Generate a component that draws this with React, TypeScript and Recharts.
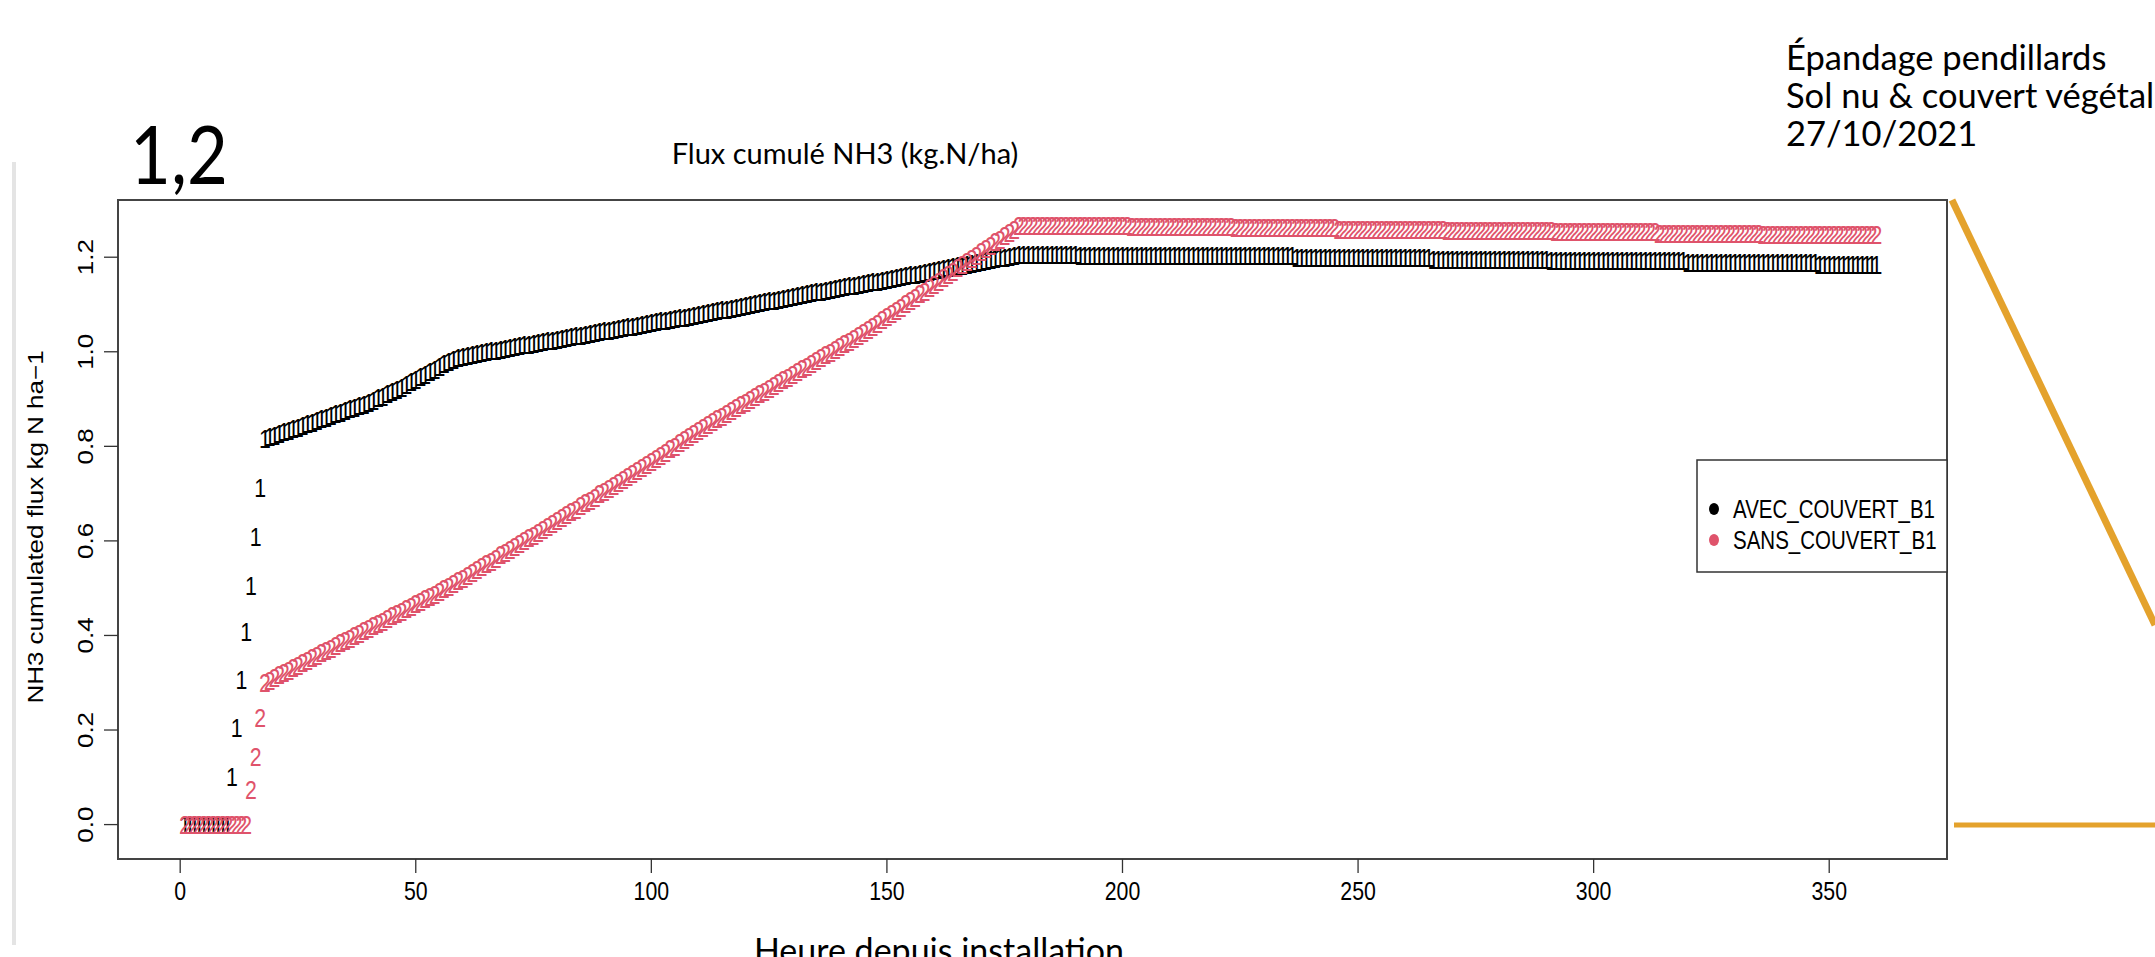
import React from 'react';
import { ScatterChart, Scatter, XAxis, YAxis, ReferenceArea, Legend } from 'recharts';

// ---- data (hours 1..360, one value per hour) ----
const hourTicks = [0, 50, 100, 150, 200, 250, 300, 350];
const fluxTicks = [0, 0.2, 0.4, 0.6, 0.8, 1.0, 1.2];
const seriesNames = ['AVEC_COUVERT_B1', 'SANS_COUVERT_B1'];
const seriesSymbols = ['1', '2'];
const seriesColors = ['#000000', '#DF536B'];

const avecCouvert = [
  0, 0, 0, 0, 0, 0, 0, 0, 0, 0,
  0.101, 0.205, 0.306, 0.407, 0.506, 0.608, 0.712,
  0.817, 0.820, 0.823, 0.827, 0.830, 0.833, 0.837, 0.840,
  0.844, 0.847, 0.851, 0.854, 0.858, 0.861, 0.865,
  0.868, 0.872, 0.875, 0.879, 0.882, 0.886, 0.889, 0.893,
  0.897, 0.902, 0.906, 0.911, 0.916, 0.920, 0.925,
  0.930, 0.936, 0.941, 0.947, 0.952,
  0.958, 0.963, 0.969, 0.975, 0.980,
  0.984, 0.987, 0.990,
  0.992, 0.994, 0.996, 0.998, 1.000,
  1.002, 1.003, 1.005, 1.007, 1.009, 1.010, 1.012,
  1.014, 1.016, 1.017, 1.019, 1.021, 1.023, 1.024, 1.026, 1.028, 1.030, 1.031, 1.033, 1.035,
  1.037, 1.038, 1.040, 1.042, 1.044, 1.045, 1.047, 1.049, 1.051, 1.052, 1.054, 1.056, 1.058, 1.059, 1.061,
  1.063, 1.065, 1.066, 1.068, 1.070, 1.071, 1.073, 1.075, 1.076, 1.078,
  1.080, 1.082, 1.084, 1.086, 1.088, 1.089, 1.091, 1.093, 1.095, 1.097,
  1.099, 1.101, 1.103, 1.105, 1.107, 1.108, 1.110, 1.112, 1.114, 1.116,
  1.118, 1.120, 1.122, 1.124, 1.126, 1.127, 1.129, 1.131, 1.133, 1.135,
  1.137, 1.139, 1.140, 1.142, 1.144, 1.146, 1.148, 1.149, 1.151, 1.153,
  1.155, 1.157, 1.158, 1.160, 1.162, 1.164, 1.166, 1.167, 1.169, 1.171, 1.173,
  1.175, 1.177, 1.179, 1.181, 1.182, 1.184, 1.186, 1.188, 1.190,
  1.192, 1.194, 1.196, 1.198, 1.200, 1.201, 1.203, 1.205,
  1.205, 1.205, 1.205, 1.205, 1.205, 1.205, 1.205, 1.205, 1.205, 1.205, 1.205, 1.205,
  1.204, 1.204, 1.204, 1.204, 1.204, 1.204, 1.204, 1.204, 1.204, 1.204, 1.204, 1.204, 1.204, 1.204, 1.204,
  1.203, 1.203, 1.203, 1.203, 1.203, 1.203, 1.203, 1.203, 1.203, 1.203,
  1.203, 1.203, 1.203, 1.203, 1.203, 1.203, 1.203, 1.203, 1.203, 1.203,
  1.203, 1.203, 1.203, 1.203, 1.203, 1.203, 1.203, 1.203, 1.203, 1.203, 1.203,
  1.199, 1.199, 1.199, 1.199, 1.199, 1.199, 1.199, 1.199, 1.199, 1.199,
  1.199, 1.199, 1.199, 1.199, 1.199, 1.199, 1.199, 1.199, 1.199, 1.199,
  1.199, 1.199, 1.199, 1.199, 1.199, 1.199, 1.199, 1.199, 1.199,
  1.195, 1.195, 1.195, 1.195, 1.195, 1.195, 1.195, 1.195, 1.195, 1.195,
  1.195, 1.195, 1.195, 1.195, 1.195, 1.195, 1.195, 1.195, 1.195, 1.195,
  1.195, 1.195, 1.195, 1.195, 1.195,
  1.192, 1.192, 1.192, 1.192, 1.192, 1.192, 1.192, 1.192, 1.192, 1.192,
  1.192, 1.192, 1.192, 1.192, 1.192, 1.192, 1.192, 1.192, 1.192, 1.192,
  1.192, 1.192, 1.192, 1.192, 1.192, 1.192, 1.192, 1.192, 1.192,
  1.188, 1.188, 1.188, 1.188, 1.188, 1.188, 1.188, 1.188, 1.188, 1.188,
  1.188, 1.188, 1.188, 1.188, 1.188, 1.188, 1.188, 1.188, 1.188, 1.188,
  1.188, 1.188, 1.188, 1.188, 1.188, 1.188, 1.188, 1.188,
  1.185, 1.185, 1.185, 1.185, 1.185, 1.185, 1.185, 1.185, 1.185, 1.185,
  1.185, 1.185, 1.185,
];

const sansCouvert = [
  0, 0, 0, 0, 0, 0, 0, 0, 0, 0, 0, 0, 0, 0,
  0.073, 0.143, 0.226,
  0.300, 0.305, 0.310, 0.316, 0.321, 0.326, 0.331, 0.337, 0.342, 0.347,
  0.352, 0.357, 0.363, 0.368, 0.373, 0.378, 0.384, 0.389, 0.394,
  0.399, 0.404, 0.410, 0.415, 0.420, 0.425, 0.430, 0.436, 0.441, 0.446,
  0.451, 0.456, 0.461, 0.467, 0.472, 0.477, 0.482, 0.487, 0.493, 0.498, 0.503,
  0.509, 0.515, 0.521, 0.527, 0.533, 0.539, 0.545, 0.551, 0.557, 0.563,
  0.570, 0.576, 0.582, 0.588, 0.594, 0.600, 0.606, 0.612, 0.618, 0.624, 0.630,
  0.636, 0.642, 0.649, 0.655, 0.661, 0.667, 0.674, 0.680, 0.686, 0.692,
  0.699, 0.705, 0.711, 0.717, 0.723, 0.730, 0.736, 0.742, 0.748, 0.755, 0.761, 0.767,
  0.774, 0.780, 0.787, 0.794, 0.800, 0.807, 0.814, 0.821, 0.827, 0.834,
  0.840, 0.846, 0.852, 0.858, 0.863, 0.869, 0.875, 0.881, 0.887, 0.893,
  0.899, 0.905, 0.911, 0.916, 0.922, 0.928, 0.934, 0.940, 0.946, 0.952,
  0.958, 0.964, 0.969, 0.975, 0.981, 0.987, 0.993, 0.999, 1.005, 1.011,
  1.017, 1.022, 1.028, 1.034, 1.040, 1.046,
  1.053, 1.060, 1.067, 1.074, 1.080, 1.087, 1.094, 1.101, 1.108, 1.115,
  1.122, 1.128, 1.135, 1.142, 1.149, 1.156, 1.163, 1.170, 1.177, 1.184,
  1.190, 1.197, 1.204, 1.211, 1.218, 1.225, 1.232, 1.238, 1.245, 1.252,
  1.259, 1.266,
  1.266, 1.266, 1.266, 1.266, 1.266, 1.266, 1.266, 1.266, 1.266, 1.266,
  1.266, 1.266, 1.266, 1.266, 1.266, 1.266, 1.266, 1.266, 1.266, 1.266,
  1.266, 1.266, 1.266,
  1.264, 1.264, 1.264, 1.264, 1.264, 1.264, 1.264, 1.264, 1.264, 1.264,
  1.264, 1.264, 1.264, 1.264, 1.264, 1.264, 1.264, 1.264, 1.264, 1.264,
  1.264, 1.264,
  1.262, 1.262, 1.262, 1.262, 1.262, 1.262, 1.262, 1.262, 1.262, 1.262,
  1.262, 1.262, 1.262, 1.262, 1.262, 1.262, 1.262, 1.262, 1.262, 1.262,
  1.262, 1.262,
  1.259, 1.259, 1.259, 1.259, 1.259, 1.259, 1.259, 1.259, 1.259, 1.259,
  1.259, 1.259, 1.259, 1.259, 1.259, 1.259, 1.259, 1.259, 1.259, 1.259,
  1.259, 1.259, 1.259,
  1.256, 1.256, 1.256, 1.256, 1.256, 1.256, 1.256, 1.256, 1.256, 1.256,
  1.256, 1.256, 1.256, 1.256, 1.256, 1.256, 1.256, 1.256, 1.256, 1.256,
  1.256, 1.256, 1.256,
  1.253, 1.253, 1.253, 1.253, 1.253, 1.253, 1.253, 1.253, 1.253, 1.253,
  1.253, 1.253, 1.253, 1.253, 1.253, 1.253, 1.253, 1.253, 1.253, 1.253,
  1.253, 1.253,
  1.249, 1.249, 1.249, 1.249, 1.249, 1.249, 1.249, 1.249, 1.249, 1.249,
  1.249, 1.249, 1.249, 1.249, 1.249, 1.249, 1.249, 1.249, 1.249, 1.249,
  1.249, 1.249,
  1.247, 1.247, 1.247, 1.247, 1.247, 1.247, 1.247, 1.247, 1.247, 1.247,
  1.247, 1.247, 1.247, 1.247, 1.247, 1.247, 1.247, 1.247, 1.247, 1.247,
  1.247, 1.247, 1.247, 1.247, 1.247,
];

// ---- layout / style ----
const W = 2155;
const H = 957;
const X_DOMAIN: [number, number] = [-13.2, 375];
const Y_DOMAIN: [number, number] = [-0.0728, 1.321];
const SQUASH = 0.82;
const R_FONT = "'Liberation Sans', Arial, Helvetica, sans-serif";
const PPT_FONT = "Lato, 'Open Sans', sans-serif";
const ORANGE = '#E4A22C';

const toPoints = (vals: number[]) => vals.map((y, i) => ({ x: i + 1, y }));

const makeGlyph = (ch: string, color: string) => (props: any) => {
  const { cx, cy } = props;
  if (cx == null || cy == null) return <g />;
  return (
    <text
      transform={`translate(${cx},${cy}) scale(${SQUASH},1)`}
      textAnchor="middle"
      dominantBaseline="central"
      fontFamily={R_FONT}
      fontSize={26}
      fill={color}
    >
      {ch}
    </text>
  );
};

const XTick = (props: any) => {
  const { x, y, payload } = props;
  return (
    <text
      transform={`translate(${x},${y + 18}) scale(${SQUASH},1)`}
      textAnchor="middle"
      dominantBaseline="central"
      fontFamily={R_FONT}
      fontSize={26}
      fill="#000"
    >
      {payload.value}
    </text>
  );
};

const YTick = (props: any) => {
  const { x, y, payload } = props;
  return (
    <text
      transform={`translate(${x - 19},${y}) scale(${SQUASH},1) rotate(-90)`}
      textAnchor="middle"
      dominantBaseline="central"
      fontFamily={R_FONT}
      fontSize={26}
      fill="#000"
    >
      {Number(payload.value).toFixed(1)}
    </text>
  );
};

const renderLegend = () => (
  <svg width={252} height={114} style={{ display: 'block' }}>
    <rect x={1} y={1} width={250} height={112} fill="#fff" stroke="#333" strokeWidth={1.5} />
    {seriesNames.map((name, i) => (
      <g key={name}>
        <ellipse cx={18} cy={50 + i * 31} rx={5} ry={6} fill={seriesColors[i]} />
        <text
          transform={`translate(37,${59 + i * 31}) scale(${SQUASH},1)`}
          fontFamily={R_FONT}
          fontSize={25}
          fill="#000"
        >
          {name}
        </text>
      </g>
    ))}
  </svg>
);

export default function App() {
  const series = [avecCouvert, sansCouvert];
  return (
    <div style={{ position: 'absolute', left: 0, top: 0, width: W, height: H, background: '#fff', overflow: 'hidden' }}>
      <ScatterChart width={W} height={H} margin={{ top: 200, right: 208, bottom: 38, left: 0 }}>
        <XAxis
          type="number"
          dataKey="x"
          domain={X_DOMAIN}
          ticks={hourTicks}
          allowDataOverflow
          axisLine={false}
          tickLine={{ stroke: '#333', strokeWidth: 1.3 }}
          tickSize={14}
          tickMargin={0}
          height={60}
          tick={<XTick />}
          interval={0}
        />
        <YAxis
          type="number"
          dataKey="y"
          domain={Y_DOMAIN}
          ticks={fluxTicks}
          allowDataOverflow
          axisLine={false}
          tickLine={{ stroke: '#333', strokeWidth: 1.3 }}
          tickSize={14}
          tickMargin={0}
          width={118}
          tick={<YTick />}
          interval={0}
        />
        <ReferenceArea
          x1={X_DOMAIN[0]}
          x2={X_DOMAIN[1]}
          y1={Y_DOMAIN[0]}
          y2={Y_DOMAIN[1]}
          fill="none"
          fillOpacity={0}
          stroke="#444"
          strokeWidth={2}
          ifOverflow="visible"
        />
        {series.map((vals, i) => (
          <Scatter
            key={seriesNames[i]}
            name={seriesNames[i]}
            data={toPoints(vals)}
            fill={seriesColors[i]}
            shape={makeGlyph(seriesSymbols[i], seriesColors[i])}
            isAnimationActive={false}
          />
        ))}
        <Legend
          layout="vertical"
          align="center"
          verticalAlign="middle"
          content={renderLegend}
          wrapperStyle={{ position: 'absolute', left: 1696, top: 459, width: 252, height: 114 }}
        />
      </ScatterChart>
      <svg
        width={W}
        height={H}
        style={{ position: 'absolute', left: 0, top: 0, pointerEvents: 'none' }}
      >
        <line x1={14} y1={162} x2={14} y2={945} stroke="#e4e4e4" strokeWidth={4} />
        <text
          transform="translate(130,184) scale(0.86,1)"
          fontFamily={PPT_FONT}
          fontSize={82}
          fill="#000"
        >
          1,2
        </text>
        <text x={845} y={164} textAnchor="middle" fontFamily={PPT_FONT} fontSize={29} fill="#000">
          Flux cumulé NH3 (kg.N/ha)
        </text>
        <text fontFamily={PPT_FONT} fontSize={34.5} fill="#000">
          <tspan x={1786} y={70}>Épandage pendillards</tspan>
          <tspan x={1786} y={108}>Sol nu &amp; couvert végétal</tspan>
          <tspan x={1786} y={146}>27/10/2021</tspan>
        </text>
        <text x={939} y={963} textAnchor="middle" fontFamily={PPT_FONT} fontSize={34} fill="#000">
          Heure depuis installation
        </text>
        <text
          transform={`translate(35,527) scale(${SQUASH},1) rotate(-90)`}
          textAnchor="middle"
          dominantBaseline="central"
          fontFamily={R_FONT}
          fontSize={26}
          fill="#000"
        >
          NH3 cumulated flux kg N ha−1
        </text>
        <line x1={1952} y1={200} x2={2155} y2={625} stroke={ORANGE} strokeWidth={7} />
        <line x1={1954} y1={825} x2={2155} y2={825} stroke={ORANGE} strokeWidth={5} />
      </svg>
    </div>
  );
}
